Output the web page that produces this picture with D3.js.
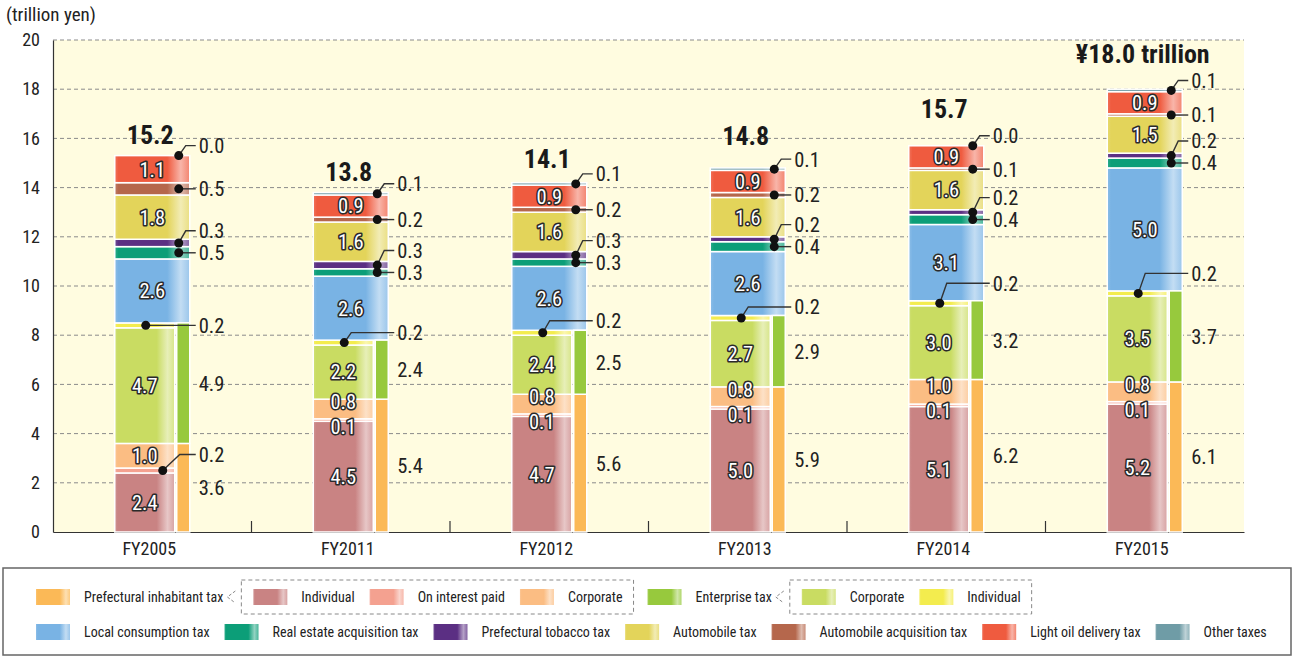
<!DOCTYPE html>
<html>
<head>
<meta charset="utf-8">
<script src="https://cdn.jsdelivr.net/npm/d3@7"></script>
<style>
  body { margin: 0; background: #fff; }
  text { font-family: 'Liberation Sans Narrow', 'Roboto Condensed', 'DejaVu Sans Condensed', 'Arial Narrow', sans-serif; }
</style>
</head>
<body>
<div id="chart"></div>
<script>
// data (trillion yen)
var years = ["FY2005", "FY2011", "FY2012", "FY2013", "FY2014", "FY2015"];
var prefIndividual   = [2.4, 4.5, 4.7, 5.0, 5.1, 5.2];
var prefInterest     = [0.2, 0.1, 0.1, 0.1, 0.1, 0.1];
var prefCorporate    = [1.0, 0.8, 0.8, 0.8, 1.0, 0.8];
var entCorporate     = [4.7, 2.2, 2.4, 2.7, 3.0, 3.5];
var entIndividual    = [0.2, 0.2, 0.2, 0.2, 0.2, 0.2];
var localConsumption = [2.6, 2.6, 2.6, 2.6, 3.1, 5.0];
var realEstate       = [0.5, 0.3, 0.3, 0.4, 0.4, 0.4];
var tobacco          = [0.3, 0.3, 0.3, 0.2, 0.2, 0.2];
var automobile       = [1.8, 1.6, 1.6, 1.6, 1.6, 1.5];
var autoAcquisition  = [0.5, 0.2, 0.2, 0.2, 0.1, 0.1];
var lightOil         = [1.1, 0.9, 0.9, 0.9, 0.9, 0.9];
var otherTaxes       = [0.0, 0.1, 0.1, 0.1, 0.0, 0.1];
var prefTotal        = [3.6, 5.4, 5.6, 5.9, 6.2, 6.1];
var entTotal         = [4.9, 2.4, 2.5, 2.9, 3.2, 3.7];
var totals           = [15.2, 13.8, 14.1, 14.8, 15.7, 18.0];
var totalLabels      = ["15.2", "13.8", "14.1", "14.8", "15.7", "¥18.0 trillion"];
var yTicks = [0, 2, 4, 6, 8, 10, 12, 14, 16, 18, 20];

var keys = ["prefInd", "prefInt", "prefCorp", "entCorp", "entInd", "lc", "re", "tob", "auto", "acq", "oil", "other"];
var series = [prefIndividual, prefInterest, prefCorporate, entCorporate, entIndividual, localConsumption,
              realEstate, tobacco, automobile, autoAcquisition, lightOil, otherTaxes];
var colors = {
    prefInd: "#c98383", prefInt: "#f4a190", prefCorp: "#fbbd83",
    entCorp: "#c9dc62", entInd: "#f3ec4e", lc: "#79b3e4", re: "#0c9e78", tob: "#5b2f83",
    auto: "#e3d45a", acq: "#b5674c", oil: "#ef5b3f", other: "#6f9ca6",
    pref: "#fbb957", ent: "#97c93d"
};
var lowerKeys = ["prefInd", "prefInt", "prefCorp", "entCorp", "entInd"];

var data = years.map(function (y, i) {
    var d = { year: y, i: i };
    keys.forEach(function (k, j) { d[k] = series[j][i]; });
    d.pref = d.prefInd + d.prefInt + d.prefCorp;
    d.ent = d.entCorp + d.entInd;
    return d;
});

var W = 1294, H = 657;
var plot = { left: 53, top: 40, right: 1244, bottom: 532 };

var svg = d3.select("#chart").append("svg").attr("width", W).attr("height", H);
var defs = svg.append("defs");

// bar shading gradients
Object.keys(colors).forEach(function (k) {
    var c = colors[k];
    var g = defs.append("linearGradient").attr("id", "g-" + k).attr("x1", "0%").attr("x2", "100%");
    [[0, d3.interpolateRgb(c, "#fff")(0.15)], [0.05, c], [0.7, c],
     [0.88, d3.interpolateRgb(c, "#fff")(0.55)], [1, d3.interpolateRgb(c, "#fff")(0.25)]].forEach(function (s) {
        g.append("stop").attr("offset", s[0]).attr("stop-color", s[1]);
    });
});

var x = d3.scaleBand().domain(years).range([plot.left, plot.right]);
var y = d3.scaleLinear().domain([0, 20]).range([plot.bottom, plot.top]);
var bw = x.bandwidth();
var barW = 75, lowW = 60, colX = 62, colW = 13;

// background + grid
svg.append("rect").attr("x", plot.left).attr("y", plot.top)
    .attr("width", plot.right - plot.left).attr("height", plot.bottom - plot.top)
    .attr("fill", "#fffce0");
svg.append("g").selectAll("line").data(yTicks.filter(function (t) { return t > 0; })).enter()
    .append("line")
    .attr("x1", plot.left).attr("x2", plot.right)
    .attr("y1", function (d) { return y(d); }).attr("y2", function (d) { return y(d); })
    .attr("stroke", "#8a8a8a").attr("stroke-width", 1).attr("stroke-dasharray", "4,3");

// axes
var yAxis = svg.append("g").attr("transform", "translate(" + plot.left + ",0)")
    .call(d3.axisLeft(y).tickValues(yTicks).tickSize(0).tickPadding(13));
yAxis.select(".domain").attr("stroke", "#333").attr("stroke-width", 1.2);
yAxis.selectAll("text").attr("font-size", 18).attr("fill", "#222");

var xAxis = svg.append("g").attr("transform", "translate(0," + plot.bottom + ")")
    .call(d3.axisBottom(x).tickSize(0).tickPadding(10));
xAxis.select(".domain").attr("stroke", "#333").attr("stroke-width", 1.2);
xAxis.selectAll("text").attr("font-size", 18).attr("fill", "#222").attr("dx", -3);
svg.append("g").selectAll("line").data(years.slice(1)).enter().append("line")
    .attr("x1", function (d) { return x(d); }).attr("x2", function (d) { return x(d); })
    .attr("y1", plot.bottom).attr("y2", plot.bottom - 11)
    .attr("stroke", "#333").attr("stroke-width", 1.2);

svg.append("text").attr("x", 6).attr("y", 21).attr("font-size", 19).attr("fill", "#222").text("(trillion yen)");

// stacks
var stacked = d3.stack().keys(keys)(data);
var colStack = d3.stack().keys(["pref", "ent"])(data);

function barLeft(d) { return x(d.year) + (bw - barW) / 2; }

var bars = svg.append("g");
stacked.forEach(function (layer) {
    var low = lowerKeys.indexOf(layer.key) >= 0;
    bars.append("g").selectAll("rect").data(layer).enter().append("rect")
        .attr("x", function (d) { return barLeft(d.data); })
        .attr("width", low ? lowW : barW)
        .attr("y", function (d) { return y(d[1]); })
        .attr("height", function (d) { return Math.max(0, y(d[0]) - y(d[1])); })
        .attr("fill", "url(#g-" + layer.key + ")")
        .attr("stroke", "#fff").attr("stroke-width", 1.5);
});
colStack.forEach(function (layer) {
    bars.append("g").selectAll("rect").data(layer).enter().append("rect")
        .attr("x", function (d) { return barLeft(d.data) + colX; })
        .attr("width", colW)
        .attr("y", function (d) { return y(d[1]); })
        .attr("height", function (d) { return y(d[0]) - y(d[1]); })
        .attr("fill", colors[layer.key])
        .attr("stroke", "#fff").attr("stroke-width", 1.5);
});

// labels
var lab = svg.append("g");
var entIndLift = [0, 10, 12, 11, 20, 20];
var totalLift = [12, 12, 15, 23, 28, 26];

function inLabel(tx, ty, s) {
    lab.append("text").attr("x", tx).attr("y", ty).attr("dy", "0.36em")
        .attr("text-anchor", "middle").attr("font-size", 20.5)
        .attr("fill", "#fff").attr("stroke", "#2a2a2a").attr("stroke-width", 3.2)
        .attr("stroke-linejoin", "round").attr("paint-order", "stroke").text(s);
}
function sideLabel(tx, ty, s) {
    lab.append("text").attr("x", tx).attr("y", ty).attr("dy", "0.36em")
        .attr("font-size", 20.5).attr("fill", "#222").text(s);
}
function callout(dx, dy, lx, ly, s, ex) {
    var ox = dx + (ex || 7);
    var pts = Math.abs(ly - dy) < 1 ? [[dx, dy], [lx - 3, ly]] : [[dx, dy], [ox, ly], [lx - 3, ly]];
    lab.append("path").attr("d", d3.line()(pts)).attr("fill", "none")
        .attr("stroke", "#333").attr("stroke-width", 1.4);
    lab.append("circle").attr("cx", dx).attr("cy", dy).attr("r", 4.5).attr("fill", "#111");
    sideLabel(lx, ly, s);
}

data.forEach(function (d, i) {
    var bl = barLeft(d), br = bl + barW, lx = br + 9;
    var seg = {};
    stacked.forEach(function (layer) { seg[layer.key] = layer[i]; });
    function mid(k) { return y((seg[k][0] + seg[k][1]) / 2); }
    var lowC = bl + lowW / 2, fullC = bl + barW / 2;

    inLabel(lowC, mid("prefInd"), d3.format(".1f")(d.prefInd));
    var corpY = mid("prefCorp");
    if (d.prefInt >= 0.2) {
        callout(bl + 48, mid("prefInt"), lx, mid("prefInt") - 16, d3.format(".1f")(d.prefInt), 17);
    } else {
        var intY = mid("prefInt");
        if (intY - corpY < 25) {
            var m = (intY + corpY) / 2;
            intY = m + 12.5; corpY = m - 12.5;
        }
        inLabel(lowC, intY, d3.format(".1f")(d.prefInt));
    }
    inLabel(lowC, corpY, d3.format(".1f")(d.prefCorp));
    inLabel(lowC, mid("entCorp"), d3.format(".1f")(d.entCorp));
    inLabel(fullC, mid("lc"), d3.format(".1f")(d.lc));
    inLabel(fullC, mid("auto"), d3.format(".1f")(d.auto));
    inLabel(fullC, mid("oil"), d3.format(".1f")(d.oil));

    // right column totals
    sideLabel(lx, y(colStack[0][i][1] / 2), d3.format(".1f")(prefTotal[i]));
    sideLabel(lx, y((colStack[1][i][0] + colStack[1][i][1]) / 2), d3.format(".1f")(entTotal[i]));

    // small segments
    callout(bl + 31, mid("entInd"), lx, mid("entInd") - entIndLift[i], d3.format(".1f")(d.entInd));
    var dotX = br - 11;
    var prev = Infinity;
    ["re", "tob", "acq", "other"].forEach(function (k) {
        var cy = mid(k);
        var ly = Math.min(k === "other" ? cy - 10 : cy, prev - 22);
        callout(dotX, cy, lx, ly, d3.format(".1f")(d[k]));
        prev = ly;
    });

    // total
    var top = y(seg.other[1]);
    lab.append("text").attr("x", fullC - 2).attr("y", top - totalLift[i])
        .attr("text-anchor", "middle").attr("font-size", 26).attr("font-weight", "bold")
        .attr("fill", "#1a1a1a").text(totalLabels[i]);
});

// legend
var leg = svg.append("g");
leg.append("rect").attr("x", 3).attr("y", 568).attr("width", 1288).attr("height", 87)
    .attr("fill", "#fff").attr("stroke", "#666").attr("stroke-width", 1.5);

function swatch(sx, cy, k) {
    leg.append("rect").attr("x", sx).attr("y", cy - 8).attr("width", 34).attr("height", 16)
        .attr("fill", "url(#g-" + k + ")");
}
function legText(tx, cy, s) {
    var t = leg.append("text").attr("x", tx).attr("y", cy).attr("dy", "0.35em")
        .attr("font-size", 14).attr("fill", "#222").text(s);
    return t.node().getComputedTextLength();
}
function item(sx, cy, k, s) {
    swatch(sx, cy, k);
    return sx + 48 + legText(sx + 48, cy, s);
}
function group(sx, cy, items) {
    var cx = sx + 12;
    items.forEach(function (it) { cx = item(cx, cy, it[0], it[1]) + 15; });
    leg.append("rect").attr("x", sx).attr("y", cy - 17).attr("width", cx - sx - 4).attr("height", 34)
        .attr("fill", "none").attr("stroke", "#888").attr("stroke-dasharray", "4,3");
    leg.append("path").attr("d", d3.line()([[sx - 6, cy - 6], [sx - 14, cy], [sx - 6, cy + 6]]))
        .attr("fill", "none").attr("stroke", "#888").attr("stroke-dasharray", "3,2");
    return cx - 4;
}
var r1 = 597, r2 = 632;
var cx = item(36, r1, "pref", "Prefectural inhabitant tax");
cx = group(cx + 18, r1, [["prefInd", "Individual"], ["prefInt", "On interest paid"], ["prefCorp", "Corporate"]]);
cx = item(cx + 14, r1, "ent", "Enterprise tax");
group(cx + 18, r1, [["entCorp", "Corporate"], ["entInd", "Individual"]]);

cx = 36;
[["lc", "Local consumption tax"], ["re", "Real estate acquisition tax"], ["tob", "Prefectural tobacco tax"],
 ["auto", "Automobile tax"], ["acq", "Automobile acquisition tax"], ["oil", "Light oil delivery tax"],
 ["other", "Other taxes"]].forEach(function (it) { cx = item(cx, r2, it[0], it[1]) + 15; });
</script>
</body>
</html>
